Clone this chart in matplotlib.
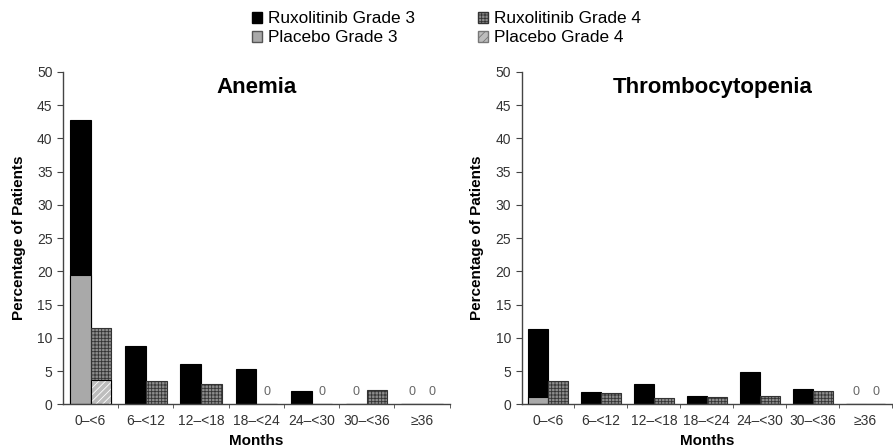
import numpy as np
import matplotlib
matplotlib.use("Agg")
import matplotlib.pyplot as plt
from matplotlib.patches import Patch

plt.rcParams['font.family'] = ['Liberation Sans', 'DejaVu Sans']
plt.rcParams['hatch.linewidth'] = 0.6

# --- data (percent of patients) ---
months = ["0\u2013<6", "6\u2013<12", "12\u2013<18", "18\u2013<24", "24\u2013<30", "30\u2013<36", "\u226536"]

anemia_rux_g3 = [42.8, 8.7, 6.1, 5.3, 2.0, 0, 0]
anemia_pbo_g3 = [19.5, 0, 0, 0, 0, 0, 0]
anemia_rux_g4 = [11.5, 3.5, 3.0, 0, 0, 2.1, 0]
anemia_pbo_g4 = [3.6, 0, 0, 0, 0, 0, 0]

thrombo_rux_g3 = [11.4, 1.8, 3.0, 1.2, 4.9, 2.3, 0]
thrombo_pbo_g3 = [1.1, 0, 0, 0, 0, 0, 0]
thrombo_rux_g4 = [3.5, 1.7, 1.0, 1.1, 1.2, 2.0, 0]
thrombo_pbo_g4 = [0, 0, 0, 0, 0, 0, 0]

RUX3 = "#000000"
PBO3 = "#a9a9a9"
RUX4 = "#8c8c8c"
PBO4 = "#bdbdbd"

fig = plt.figure(figsize=(8.93, 4.48), dpi=100)
ax1 = fig.add_axes([0.0705, 0.0975, 0.433, 0.742])
ax2 = fig.add_axes([0.584, 0.0975, 0.415, 0.742])

W = 0.375
x = np.arange(len(months))


def draw_panel(ax, title, tx, r3, p3, r4, p4):
    x3 = x - W / 2
    x4 = x + W / 2
    ax.bar(x3, r3, W, color=RUX3, edgecolor="black", linewidth=0.8)
    ax.bar(x3, p3, W, color=PBO3, edgecolor="black", linewidth=0.8)
    ax.bar(x4, r4, W, color=RUX4, edgecolor="#333333", linewidth=0.8, hatch="+++++")
    # placebo grade 4: white diagonal hatch, black outline on top
    ax.bar(x4, p4, W, color=PBO4, edgecolor="white", linewidth=0, hatch="/////")
    ax.bar(x4, p4, W, color="none", edgecolor="black", linewidth=0.8)

    for i in range(len(months)):
        if r3[i] == 0 and p3[i] == 0:
            ax.text(x3[i], 1.9, "0", ha="center", va="center", fontsize=9, color="#666666")
        if r4[i] == 0 and p4[i] == 0:
            ax.text(x4[i], 1.9, "0", ha="center", va="center", fontsize=9, color="#666666")

    ax.set_xlim(-0.5, len(months) - 0.5)
    ax.set_ylim(0, 50)
    ax.set_yticks(np.arange(0, 51, 5))
    ax.set_xticks(x)
    ax.set_xticklabels(months)
    ax.set_xticks(np.arange(0.5, len(months), 1), minor=True)
    ax.tick_params(axis="x", which="major", length=0, pad=7, labelsize=10, labelcolor="#333333")
    ax.tick_params(axis="x", which="minor", length=3, direction="out", color="#444444")
    ax.tick_params(axis="y", length=4, direction="out", labelsize=10, labelcolor="#333333", color="#444444")
    for s in ["top", "right"]:
        ax.spines[s].set_visible(False)
    for s in ["left", "bottom"]:
        ax.spines[s].set_color("#444444")
        ax.spines[s].set_linewidth(1.0)
    ax.set_xlabel("Months", fontsize=11, fontweight="bold", labelpad=4)
    ax.set_ylabel("Percentage of Patients", fontsize=11, fontweight="bold", labelpad=8)
    ax.text(tx, 0.952, title, transform=ax.transAxes, ha="center", va="center",
            fontsize=16, fontweight="bold")


draw_panel(ax1, "Anemia", 0.5, anemia_rux_g3, anemia_pbo_g3, anemia_rux_g4, anemia_pbo_g4)
draw_panel(ax2, "Thrombocytopenia", 0.515, thrombo_rux_g3, thrombo_pbo_g3, thrombo_rux_g4, thrombo_pbo_g4)

handles = [
    Patch(facecolor=RUX3, edgecolor="black", label="Ruxolitinib Grade 3"),
    Patch(facecolor=PBO3, edgecolor="#555555", label="Placebo Grade 3"),
    Patch(facecolor=RUX4, edgecolor="#333333", hatch="+++++", label="Ruxolitinib Grade 4"),
    Patch(facecolor=PBO4, edgecolor="#777777", hatch="////", label="Placebo Grade 4"),
]
fig.legend(handles=handles, ncol=2, loc="center", bbox_to_anchor=(0.5, 0.937),
           frameon=False, fontsize=12.4, handlelength=0.6, handleheight=0.6,
           handletextpad=0.35, columnspacing=3.6, labelspacing=0.22)

fig.savefig("out.png", dpi=100)
